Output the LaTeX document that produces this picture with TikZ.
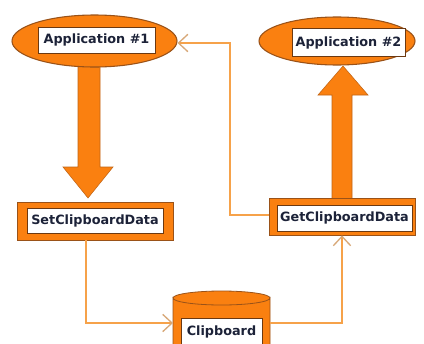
\documentclass[tikz,border=0pt]{standalone}
\usepackage{fontspec}
\setmainfont{DejaVu Sans}
\usetikzlibrary{arrows.meta,shapes.geometric}
\definecolor{org}{HTML}{FA8010}
\definecolor{orgdark}{HTML}{9A5218}
\definecolor{lineorg}{HTML}{F6A24A}
\definecolor{barb}{HTML}{D8A878}
\definecolor{txt}{HTML}{1C2238}
\tikzset{
  px/.style={},
  ell/.style={ellipse, fill=org, draw=orgdark, line width=0.8pt, inner sep=0pt},
  outerbox/.style={rectangle, fill=org, draw=orgdark, line width=0.6pt, inner sep=0pt},
  innerbox/.style={rectangle, fill=white, draw=orgdark!70!black, line width=0.5pt, inner sep=0pt,
     font=\fontsize{9.6}{11}\selectfont\bfseries, text=txt},
  conn/.style={draw=lineorg, line width=1.3pt, -{Straight Barb[length=7pt,width=13pt,line width=1pt,color=barb]}},
  bigarrow/.style={fill=org, draw=orgdark!60!org, line width=0.4pt},
}
\begin{document}
\begin{tikzpicture}[x=0.75pt,y=-0.75pt]
\useasboundingbox (0,0) rectangle (424,343);
\clip (0,0) rectangle (424,343);
\fill[white] (0,0) rectangle (424,343);

% big arrows (drawn first, behind the nodes)
\coordinate (dtip) at (88,198);
\coordinate (utip) at (343,66);
\draw[bigarrow] (78,60) -- (100,60) -- (100,167) -- (113,167) -- (dtip) -- (63,167) -- (78,167) -- cycle;
\draw[bigarrow] (332,205) -- (352,205) -- (352,95) -- (368,95) -- (utip) -- (318,95) -- (332,95) -- cycle;

% Application #1
\node[ell, minimum width={165*0.75pt}, minimum height={52*0.75pt}] (app1e) at (94.5,41) {};
\node[innerbox, minimum width={117*0.75pt}, minimum height={26*0.75pt}] (app1) at (96.5,40) {Application \#1};

% Application #2
\node[ell, minimum width={156*0.75pt}, minimum height={48*0.75pt}] (app2e) at (337,41) {};
\node[innerbox, minimum width={113*0.75pt}, minimum height={28*0.75pt}] (app2) at (348.5,42.5) {Application \#2};

% SetClipboardData
\node[outerbox, minimum width={156*0.75pt}, minimum height={38*0.75pt}] (setb) at (95,221) {};
\node[innerbox, minimum width={136*0.75pt}, minimum height={25*0.75pt}] (set) at (95,220.5) {SetClipboardData};

% GetClipboardData
\node[outerbox, minimum width={146*0.75pt}, minimum height={37*0.75pt}] (getb) at (342,216.5) {};
\node[innerbox, minimum width={135*0.75pt}, minimum height={26*0.75pt}] (get) at (344.5,218) {GetClipboardData};

% Clipboard cylinder
\coordinate (cylL) at (173,298);
\coordinate (cylR) at (270,298);
\fill[org] (173,298) -- (173,350) -- (270,350) -- (270,298) arc[start angle=0,end angle=-180,x radius=48.5,y radius=7] -- cycle;
\draw[orgdark, line width=0.6pt] (173,350) -- (173,298) arc[start angle=180,end angle=0,x radius=48.5,y radius=7] -- (270,350);
\draw[orgdark, line width=0.6pt] (173,298) arc[start angle=180,end angle=360,x radius=48.5,y radius=7];
\node[innerbox, minimum width={81*0.75pt}, minimum height={27*0.75pt}] (clip) at (221.5,331.5) {Clipboard};
\coordinate (clipL) at (173,323);
\coordinate (clipR) at (270,323);

% thin connectors
\draw[conn] (setb.south -| 86,0) |- (clipL);
\draw[conn] (clipR) -| (getb.south -| 342,0);
\draw[conn] (getb.west |- 0,215) -| (230,43) -- (app1e.east |- 0,43);
\end{tikzpicture}
\end{document}
